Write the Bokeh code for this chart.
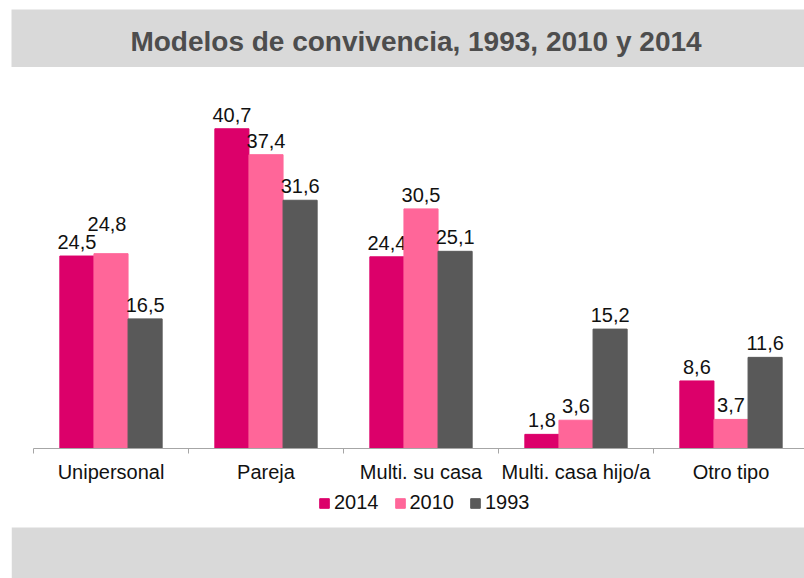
from bokeh.plotting import figure
from bokeh.layouts import column
from bokeh.models import (ColumnDataSource, Range1d, FixedTicker, Legend, LegendItem, Label,
                          BoxAnnotation)
from bokeh.transform import dodge
from bokeh.core.properties import value
from bokeh.embed import file_html
from bokeh.resources import INLINE

# ---------------- data ----------------
title_text = "Modelos de convivencia, 1993, 2010 y 2014"
categories = ["Unipersonal", "Pareja", "Multi. su casa", "Multi. casa hijo/a", "Otro tipo"]
series_names = ["2014", "2010", "1993"]
values_2014 = [24.5, 40.7, 24.4, 1.8, 8.6]
values_2010 = [24.8, 37.4, 30.5, 3.6, 3.7]
values_1993 = [16.5, 31.6, 25.1, 15.2, 11.6]

# ---------------- styles ----------------
colors = ["#DC006A", "#FF6699", "#595959"]
band_gray = "#D9D9D9"
axis_gray = "#A6A6A6"
FONT = "Liberation Sans"
bar_w = 0.22
offsets = [-bar_w, 0.0, bar_w]

n = len(categories)
centers = [i + 0.5 for i in range(n)]
all_values = [values_2014, values_2010, values_1993]

# ---------------- header band ----------------
hdr = figure(width=804, height=67, x_range=Range1d(0, 1), y_range=Range1d(0, 1),
             toolbar_location=None, output_backend="svg", frame_align=False,
             min_border_left=11, min_border_right=0, min_border_bottom=0, min_border_top=9,
             background_fill_color=band_gray, border_fill_color="white",
             outline_line_color=None, x_axis_location=None, y_axis_location=None)
hdr.xgrid.visible = False
hdr.ygrid.visible = False
hdr.add_layout(Label(x=0.5, y=0.5, text=title_text, text_align="center", text_baseline="middle",
                     x_offset=8, y_offset=-3, text_font=FONT, text_font_style="bold",
                     text_font_size="28px", text_color="#4D4D4D"))

# ---------------- main chart ----------------
p = figure(width=804, height=421, x_range=Range1d(0, 771 / 155), y_range=Range1d(0, 48.5),
           toolbar_location=None, output_backend="svg", frame_align=False,
           min_border_left=33, min_border_right=0, min_border_top=0, min_border_bottom=40,
           y_axis_location=None, outline_line_color=None,
           background_fill_color="white", border_fill_color="white")
p.xgrid.visible = False
p.ygrid.visible = False

xa = p.xaxis[0]
xa.ticker = FixedTicker(ticks=centers, minor_ticks=list(range(n + 1)))
xa.major_label_overrides = {c: cat for c, cat in zip(centers, categories)}
xa.major_tick_line_color = None
xa.major_tick_in = 0
xa.major_tick_out = 0
xa.minor_tick_line_color = axis_gray
xa.minor_tick_in = 0
xa.minor_tick_out = 5
xa.axis_line_color = axis_gray
xa.major_label_text_font = FONT
xa.major_label_text_font_size = "20px"
xa.major_label_text_color = "#111111"
xa.major_label_standoff = 7

for j, (name, vals, col) in enumerate(zip(series_names, all_values, colors)):
    dy = [-14] * n
    dx = [0] * n
    if name == "2010":
        dy[0] = -30
        dx[0] = -4
    src = ColumnDataSource(dict(
        x=centers, top=vals,
        lbl=[f"{v:.1f}".replace(".", ",") for v in vals],
        dx=dx, dy=dy))
    p.vbar(x=dodge("x", offsets[j], range=p.x_range), top="top", width=bar_w,
           source=src, fill_color=col, line_color=col, line_width=1)
    p.text(x=dodge("x", offsets[j], range=p.x_range), y="top", text="lbl", source=src,
           x_offset="dx", y_offset="dy",
           text_align="center", text_baseline="alphabetic",
           text_font=value(FONT), text_font_size="20px", text_color="#111111")

# ---------------- legend + bottom band ----------------
low = figure(width=804, height=90, x_range=Range1d(-20, -19), y_range=Range1d(0, 90),
             toolbar_location=None, output_backend="svg", frame_align=False,
             min_border_left=11, min_border_right=0, min_border_bottom=0, min_border_top=0,
             background_fill_color="white", border_fill_color="white",
             outline_line_color=None, x_axis_location=None, y_axis_location=None)
low.xgrid.visible = False
low.ygrid.visible = False
low.add_layout(BoxAnnotation(top=51, fill_color=band_gray, fill_alpha=1.0, line_color=None,
                             level="underlay"))
items = []
for j, (name, vals, col) in enumerate(zip(series_names, all_values, colors)):
    # legend swatches (bars lie outside this strip's visible range)
    r = low.vbar(x=centers, top=vals, width=bar_w, fill_color=col, line_color=col)
    items.append(LegendItem(label=name, renderers=[r]))

legend = Legend(items=items, orientation="horizontal", location=(307, 64),
                glyph_width=12, glyph_height=12, label_standoff=4, spacing=15,
                padding=0, margin=0, border_line_color=None, background_fill_alpha=0,
                label_text_font=FONT, label_text_font_size="20px", label_text_color="#111111",
                label_height=20)
low.add_layout(legend)

layout = column(hdr, p, low, spacing=0)

open("out.html", "w").write(file_html(layout, INLINE))
